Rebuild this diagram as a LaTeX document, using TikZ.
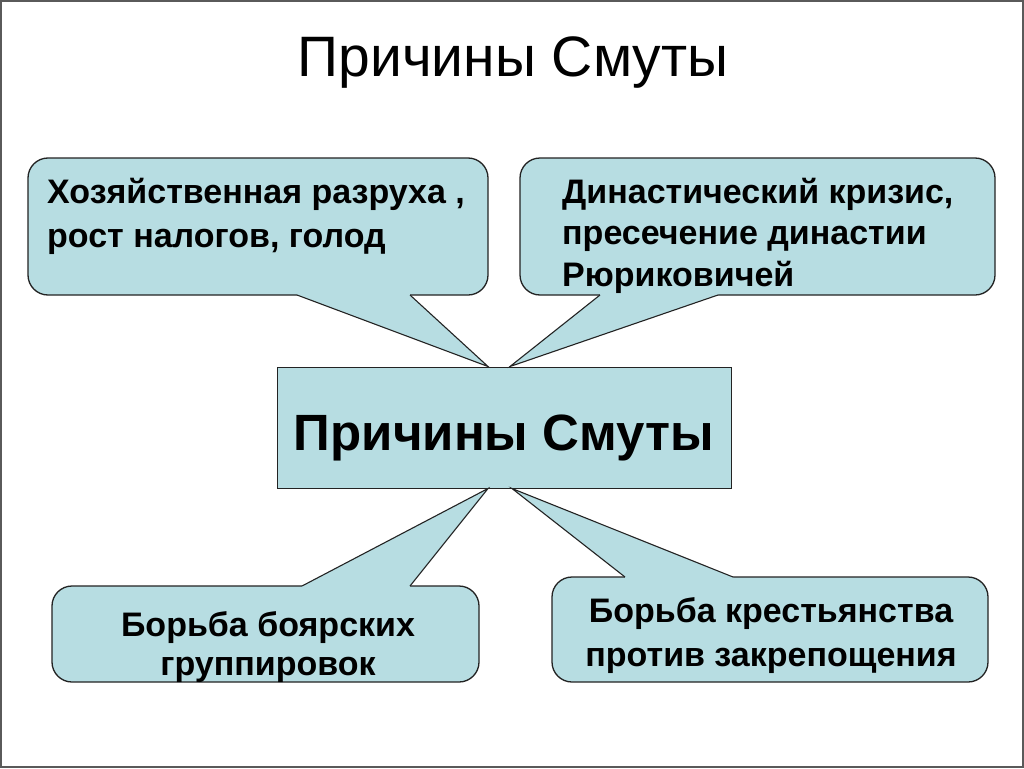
\documentclass[tikz,border=0pt]{standalone}
\usepackage{fontspec}
\setmainfont{Liberation Sans}
\definecolor{boxfill}{RGB}{183,221,226}
\definecolor{edgecol}{RGB}{35,35,35}
\definecolor{framecol}{RGB}{90,90,90}
\newcommand{\cwedge}[4]{%
  \fill[boxfill] ([yshift=#4]#1) -- (#1) -- (#2) -- (#3) -- ([yshift=#4]#3) -- cycle;
  \draw[wedgeline] (#1) -- (#2) -- (#3);}
\begin{document}
\begin{tikzpicture}[x=1pt,y=-1pt,
  callbox/.style={draw=edgecol, fill=boxfill, line width=1.3pt, rounded corners=20pt, inner sep=0pt},
  centerbox/.style={draw=edgecol, fill=boxfill, line width=1pt, inner sep=0pt,
     font=\fontsize{51}{60}\selectfont\bfseries, text height=45pt, text depth=0pt},
  wedgeline/.style={draw=edgecol, line width=1.1pt, line join=miter},
  btxt/.style={font=\fontsize{34}{41}\selectfont\bfseries, inner sep=0pt},
  titletxt/.style={font=\fontsize{57}{68}\selectfont, inner sep=0pt}]
\useasboundingbox (0,0) rectangle (1024,768);
\fill[white] (0,0) rectangle (1024,768);
\draw[framecol, line width=2pt] (1,1) rectangle (1023,767);

\node[titletxt, anchor=base] (title) at (513,76) {Причины Смуты};

% callout boxes
\node[callbox, minimum width=460pt, minimum height=137pt] (econ) at (258,226.5) {};
\node[callbox, minimum width=475pt, minimum height=137pt] (dyn) at (757.5,226.5) {};
\node[callbox, minimum width=427pt, minimum height=96pt] (boyar) at (265.5,634) {};
\node[callbox, minimum width=436pt, minimum height=105pt] (peas) at (770,629.5) {};

% central box
\node[centerbox, minimum width=454pt, minimum height=121pt] (cbox) at (504,427.5) {Причины Смуты};

% wedge points
\coordinate (econA) at (297,295);  \coordinate (econB) at (410,295);
\coordinate (dynA)  at (600,295);  \coordinate (dynB)  at (718,295);
\coordinate (boyA)  at (302,586);  \coordinate (boyB)  at (410,586);
\coordinate (peaA)  at (625,577);  \coordinate (peaB)  at (733,577);
\coordinate (tipE) at ([xshift=-16pt]cbox.north);
\coordinate (tipD) at ([xshift=6pt]cbox.north);
\coordinate (tipB) at ([xshift=-16pt]cbox.south);
\coordinate (tipP) at ([xshift=8pt]cbox.south);

\cwedge{econA}{tipE}{econB}{3pt}
\cwedge{dynA}{tipD}{dynB}{3pt}
\cwedge{boyA}{tipB}{boyB}{-3pt}
\cwedge{peaA}{tipP}{peaB}{-3pt}

% texts
\node[btxt, anchor=base west] (econT) at (47,203)
  {\begin{tabular}[t]{@{}l@{}}Хозяйственная разруха ,\\[3pt]рост налогов, голод\end{tabular}};
\node[btxt, anchor=base west] (dynT) at (562,203)
  {\begin{tabular}[t]{@{}l@{}}Династический кризис,\\пресечение династии\\[1pt]Рюриковичей\end{tabular}};
\node[btxt, anchor=base] (boyarT) at (268,636)
  {\begin{tabular}[t]{@{}c@{}}Борьба боярских\\[-2pt]группировок\end{tabular}};
\node[btxt, anchor=base] (peasT) at (771,622)
  {\begin{tabular}[t]{@{}c@{}}Борьба крестьянства\\[3pt]против закрепощения\end{tabular}};
\end{tikzpicture}
\end{document}
